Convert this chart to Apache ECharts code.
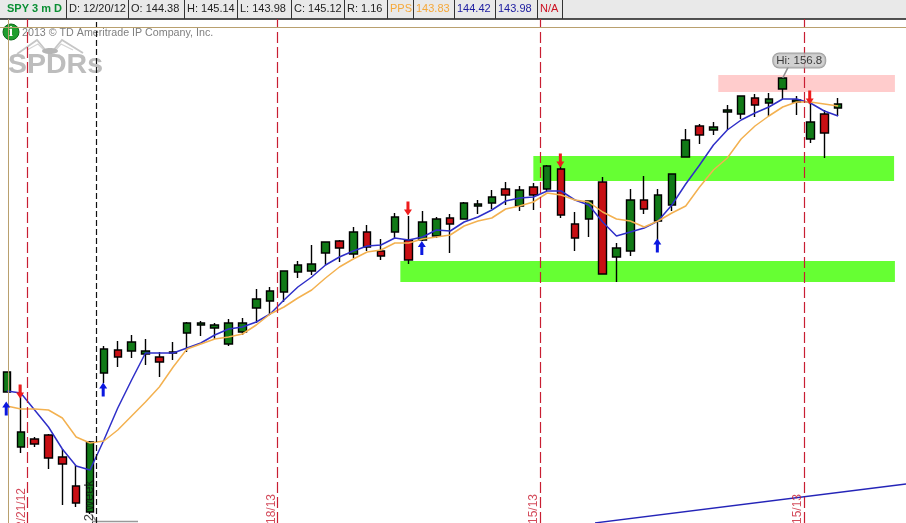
<!DOCTYPE html>
<html><head><meta charset="utf-8">
<style>html,body{margin:0;padding:0;background:#fff}#c{width:906px;height:523px}</style>
<script src="https://cdn.jsdelivr.net/npm/echarts@6/dist/echarts.min.js"></script>
</head><body><div id="c"></div>
<script>
// Prices per session
const opens=[144.24,142.04,142.36,142.52,141.64,140.48,139.44,145.00,145.92,145.88,145.76,145.64,145.80,146.60,146.92,146.80,146.16,146.64,147.60,147.88,148.24,149.04,149.08,149.80,150.28,149.76,150.64,149.88,150.64,150.32,150.32,150.48,151.20,151.16,151.68,151.80,152.36,151.68,152.44,152.36,153.16,150.96,151.16,152.64,149.64,149.88,151.92,151.08,151.72,153.64,154.88,154.72,155.44,155.36,156.00,155.80,156.36,155.84,154.36,155.36,155.60];
const closes=[145.04,142.64,142.16,141.60,141.36,139.80,142.24,145.96,145.64,146.24,145.88,145.44,145.84,147.00,147.00,146.92,147.00,147.00,147.96,148.28,149.08,149.32,149.36,150.24,150.00,150.64,150.04,149.68,151.24,149.52,151.04,151.16,150.96,151.80,151.76,152.04,152.12,152.32,152.12,153.28,151.32,150.40,151.88,148.96,150.00,151.92,151.56,152.12,152.96,154.32,154.52,154.84,155.52,156.08,155.72,155.96,156.80,155.92,155.04,154.60,155.76];
const lows=[144.24,141.80,142.04,141.16,139.72,139.64,139.36,144.60,145.24,145.60,145.32,144.84,145.52,145.84,146.48,146.36,146.08,146.52,147.00,147.32,147.84,148.80,148.92,149.32,149.44,149.60,149.88,149.52,150.36,149.36,150.28,150.40,149.80,151.16,151.36,151.56,151.72,151.48,151.52,152.28,151.20,149.88,150.44,148.96,148.64,149.68,151.36,149.92,151.48,153.64,154.16,154.52,154.72,155.16,155.24,155.28,155.96,155.32,154.20,153.60,155.28];
const highs=[145.04,144.52,142.44,142.56,141.96,141.32,142.28,146.08,146.28,146.52,146.36,145.84,146.24,147.04,147.08,147.00,147.16,147.20,148.36,148.44,149.08,149.48,150.12,150.24,150.32,150.84,150.92,150.36,151.40,151.28,151.48,151.24,151.36,151.84,151.92,152.32,152.64,152.48,152.60,153.32,153.32,151.44,151.88,152.84,150.20,152.36,152.88,152.36,152.96,154.76,154.96,155.04,155.72,156.08,156.16,156.20,156.80,156.08,155.80,155.52,156.00];
const blueAvg=[144.28,144.20,143.52,142.84,141.96,141.28,141.12,142.32,143.60,144.72,145.80,145.80,145.80,146.00,146.20,146.52,146.76,146.84,147.04,147.36,147.92,148.44,148.84,149.32,149.64,149.88,150.08,150.12,150.40,150.32,150.44,150.72,150.68,151.04,151.24,151.52,151.88,152.00,152.04,152.28,152.28,151.92,151.72,151.04,150.48,150.64,150.80,151.08,151.72,152.56,153.32,154.12,154.72,155.12,155.40,155.64,155.96,155.96,155.80,155.48,155.28];
const orangeAvg=[143.68,143.56,143.56,143.52,143.20,142.44,142.20,142.28,142.72,143.28,143.84,144.44,145.24,145.96,146.16,146.36,146.44,146.56,146.92,147.36,147.64,148.00,148.32,148.80,149.24,149.56,149.84,149.92,150.20,150.20,150.36,150.44,150.52,150.88,151.08,151.20,151.56,151.68,151.84,152.20,152.12,151.92,151.84,151.44,151.16,151.08,150.84,151.08,151.40,151.68,152.44,153.12,153.60,154.36,154.88,155.28,155.64,155.84,155.84,155.76,155.68];
// Signals: [session, price]
const upArrows=[[0,143.58],[7,144.34],[30,150.0],[47,150.1]];
const downArrows=[[1,144.26],[29,151.58],[40,153.5],[58,156.02]];
// Zones: [fromSession, toSession, lowPrice, highPrice]
const greenZones=[[38,64.04,152.68,153.68],[28.4,64.1,148.64,149.48]];
const pinkZones=[[51.35,64.1,156.24,156.92]];
// Period separators and dates
const periodLines=[1.45,19.5,38.5,57.55];
const cursorLine=[6.43];
const frameX=[0.12];
const frameY=[158.84];
const dateLabels=[[1.05,140.40,'12/21/12'],[19.12,140.16,'1/18/13'],[38.05,140.16,'2/15/13'],[57.05,140.16,'3/15/13']];
const rangeLabel=[[5.95,140.72,'12 week']];
const trendLine=[[42.45,139.0],[64.9,140.56]];
const hiPoint=[56.4,157.24];
const hiAnchor=[56,156.8];
// Header strip
const headerTexts=['SPY 3 m D','D: 12/20/12','O: 144.38','H: 145.14','L: 143.98','C: 145.12','R: 1.16','PPS','143.83','144.42','143.98','N/A'];
const headerColors=['#0b8f34','#222','#222','#222','#222','#222','#222','#f5a83a','#f5a83a','#1b1ba0','#1b1ba0','#cc1122'];
const headerEdges=[0,66,128,184,237,291,344,387,413,454,495,537,562];

const chart=echarts.init(document.getElementById('c'),null,{renderer:'canvas'});
const FONT='"Liberation Sans",Arial,sans-serif';
const RED='#c81e32', TAN='#b9a06e';
const candles=opens.map((o,i)=>[i,o,closes[i],lows[i],highs[i]]);
const toPairs=a=>a.map((v,i)=>[i,v]);
const zoneItems=(zs,color)=>zs.map(z=>[{xAxis:z[0],yAxis:z[3],itemStyle:{color,opacity:1}},{xAxis:z[1],yAxis:z[2]}]);
const vLine=(x,color,dash,w)=>({xAxis:x,lineStyle:{color,type:dash,width:w}});

const ARROW_UP='path://M4 0L8 6L5.5 6L5.5 14L2.5 14L2.5 6L0 6Z';
const ARROW_DOWN='path://M4 14L8 8L5.5 8L5.5 0L2.5 0L2.5 8L0 8Z';

const header=[];
header.push({type:'rect',shape:{x:0,y:0,width:906,height:19},style:{fill:'#e9e9e9'},silent:true});
header.push({type:'line',shape:{x1:0,y1:19,x2:906,y2:19},style:{stroke:'#1a1a1a',lineWidth:1.5},silent:true});
headerEdges.slice(1).forEach(x=>header.push({type:'line',shape:{x1:x+.5,y1:0,x2:x+.5,y2:19},style:{stroke:'#333',lineWidth:1},silent:true}));
headerTexts.forEach((t,i)=>header.push({type:'text',x:headerEdges[i]+(i===0?7:3),y:9,style:{text:t,fill:headerColors[i],font:(i===0?'bold 11px ':'11px ')+FONT,textVerticalAlign:'middle'},silent:true}));

const logo=[
 {type:'polyline',shape:{points:[[17,54],[37,40],[47,52]]},style:{stroke:'#c6c6c6',fill:null,lineWidth:1.8},silent:true},
 {type:'polyline',shape:{points:[[52,52],[62,40],[83,53]]},style:{stroke:'#c6c6c6',fill:null,lineWidth:1.8},silent:true},
 {type:'polyline',shape:{points:[[27,50],[38,44],[46,52]]},style:{stroke:'#d4d4d4',fill:null,lineWidth:1.2},silent:true},
 {type:'polyline',shape:{points:[[54,52],[61,44],[73,50]]},style:{stroke:'#d4d4d4',fill:null,lineWidth:1.2},silent:true},
 {type:'ellipse',shape:{cx:50,cy:51,rx:8,ry:3},style:{fill:'#b5b5b5'},silent:true},
 {type:'text',x:8,y:65,style:{text:'SPDRs',fill:'#bdbdbd',font:'bold 28.5px '+FONT,textVerticalAlign:'middle'},silent:true},
 {type:'text',x:22,y:33.5,style:{text:'2013 © TD Ameritrade IP Company, Inc.',fill:'#7f7f7f',font:'10.7px '+FONT,textVerticalAlign:'middle'},silent:true},
 {type:'circle',shape:{cx:11,cy:32,r:8},style:{fill:'#1e9e2e',stroke:'#0d6a1a',lineWidth:1},silent:true},
 {type:'text',x:11,y:32,style:{text:'i',fill:'#fff',font:'bold 14px "Liberation Serif",serif',textAlign:'center',textVerticalAlign:'middle'},silent:true},
 {type:'line',shape:{x1:92,y1:521.5,x2:138,y2:521.5},style:{stroke:'#999',lineWidth:1.5},silent:true},
 {type:'line',shape:{x1:91,y1:514,x2:97,y2:522},style:{stroke:'#999',lineWidth:1.5},silent:true}
];

chart.setOption({
 animation:false,
 backgroundColor:'#ffffff',
 grid:{left:0,right:0,top:19,bottom:0,containLabel:false},
 xAxis:{type:'value',min:-0.5,max:64.9,show:false,splitLine:{show:false}},
 yAxis:{type:'value',min:139,max:159.16,show:false,splitLine:{show:false},scale:true},
 graphic:{elements:[...header,...logo]},
 series:[
  {name:'SPY',type:'candlestick',barWidth:8,data:candles,clip:false,
   itemStyle:{color:'#117a17',color0:'#c80f14',borderColor:'#000',borderColor0:'#000',borderColorDoji:'#000',borderWidth:1.4},
   markArea:{silent:true,animation:false,data:[...zoneItems(greenZones,'#66ff33'),...zoneItems(pinkZones,'#ffcccc')]},
   markLine:{silent:true,animation:false,symbol:'none',label:{show:false},precision:4,
    data:[...periodLines.map(x=>vLine(x,RED,[11,4],1.2)),...cursorLine.map(x=>vLine(x,'#111',[6,3],1.2)),
          ...frameX.map(x=>vLine(x,TAN,'solid',1)),...frameY.map(y=>({yAxis:y,lineStyle:{color:TAN,type:'solid',width:1}}))]}
  },
  {name:'Blue average',type:'line',data:toPairs(blueAvg),showSymbol:false,symbol:'none',z:4,lineStyle:{color:'#2f2fc8',width:1.5}},
  {name:'Orange average',type:'line',data:toPairs(orangeAvg),showSymbol:false,symbol:'none',z:4,lineStyle:{color:'#f3b150',width:1.5}},
  {name:'Trend',type:'line',data:trendLine,showSymbol:false,symbol:'none',z:4,lineStyle:{color:'#2424b8',width:1.3}},
  {name:'Up signal',type:'scatter',data:upArrows,symbol:ARROW_UP,symbolSize:[8,14],symbolOffset:[-0.7,0],z:6,itemStyle:{color:'#0b18e0',opacity:1}},
  {name:'Down signal',type:'scatter',data:downArrows,symbol:ARROW_DOWN,symbolSize:[8,14],symbolOffset:[-0.7,0],z:6,itemStyle:{color:'#ee1c1c',opacity:1}},
  {name:'Dates',type:'scatter',data:dateLabels,symbolSize:1,z:7,itemStyle:{color:'transparent'},
   label:{show:true,position:'inside',rotate:90,align:'right',verticalAlign:'middle',color:RED,fontSize:12,fontFamily:FONT,formatter:p=>p.data[2]},labelLayout:{hideOverlap:false}},
  {name:'Range',type:'scatter',data:rangeLabel,symbolSize:1,z:7,itemStyle:{color:'transparent'},
   label:{show:true,position:'inside',rotate:90,align:'right',verticalAlign:'middle',color:'#111',fontSize:13,fontFamily:FONT,formatter:p=>p.data[2]}},
  {name:'Hi pointer',type:'line',data:[hiAnchor,hiPoint],showSymbol:false,symbol:'none',z:7,lineStyle:{color:'#8e8e8e',width:1.6}},
  {name:'Hi',type:'scatter',data:[hiPoint],symbolSize:1,z:8,itemStyle:{color:'transparent'},
   label:{show:true,position:'top',distance:-1,offset:[11,0],formatter:'Hi: 156.8',color:'#111',fontSize:11.5,fontFamily:FONT,backgroundColor:'#c6c6c6',borderColor:'#8a8a8a',borderWidth:1,borderRadius:6,padding:[1,3,1,3]}}
 ]
});
</script></body></html>
